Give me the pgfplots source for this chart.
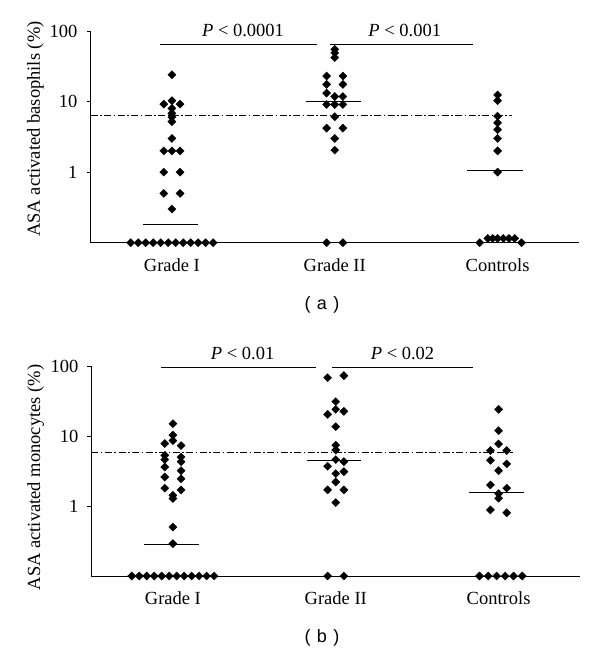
\documentclass[border=0pt]{standalone}
\usepackage{pgfplots}
\pgfplotsset{compat=1.18}
\usepackage{pgfplotstable}
\usepackage{fontspec}
\setmainfont{Liberation Serif}
\newfontfamily\capfont{Liberation Sans}
\newcommand\ff{\fontsize{18.5}{22}\selectfont}

% panel (a): basophils
\pgfplotstableread{
x y
0 24
-0.05 9.2
0 10.3
0.05 9.2
0 8
0 6.8
0 6
0 5.2
0 3
-0.05 2
0 2
0.05 2
-0.05 1
0.05 1
-0.05 0.5
0.05 0.5
0 0.3
-0.253 0.1
-0.207 0.1
-0.161 0.1
-0.115 0.1
-0.069 0.1
-0.023 0.1
0.023 0.1
0.069 0.1
0.115 0.1
0.161 0.1
0.207 0.1
0.253 0.1
1 55
1 49
1 42
0.95 23
1.05 23
0.95 17.5
1.05 17.5
0.95 13.2
1 11.8
1.05 11.8
0.95 9.1
1 9.1
1.05 9.1
1 6.1
0.95 4.2
1.05 4.2
1 3
1 2.05
0.95 0.1
1.05 0.1
2 12.4
2 10.3
2 6.2
2 5
2 4
2 3
2 2
2 1
1.89 0.1
1.94 0.115
1.97 0.115
2.0 0.115
2.035 0.115
2.07 0.115
2.105 0.115
2.147 0.1
}\basophils

% panel (b): monocytes
\pgfplotstableread{
x y
0 15
0 10.3
0 8.6
-0.05 7.8
0.05 7.3
-0.05 5.3
0.05 5.0
-0.05 4.6
0.05 4.3
-0.05 3.6
0.05 3.2
-0.05 2.6
0.05 2.45
-0.05 1.8
0.05 1.7
0 1.42
0 1.28
0 0.5
0 0.29
-0.253 0.1
-0.207 0.1
-0.161 0.1
-0.115 0.1
-0.069 0.1
-0.023 0.1
0.023 0.1
0.069 0.1
0.115 0.1
0.161 0.1
0.207 0.1
0.253 0.1
0.95 68
1.05 73
1 31
1 24
0.95 20.4
1.05 22.5
1 13.6
1 7.4
1 6.3
1 4.6
1.05 4.3
0.95 3.7
1.05 3.1
1 2.9
1 2.2
0.95 1.7
1.05 1.7
1 1.12
0.95 0.1
1.05 0.1
2 24
2 11.9
2 7.7
1.95 6.2
2.05 6.2
1.95 4.5
2.05 4.0
2 3.2
1.95 2.0
2.05 1.8
2 1.5
2 1.29
1.95 0.88
2.05 0.8
1.883 0.1
1.936 0.1
1.988 0.1
2.04 0.1
2.092 0.1
2.145 0.1
}\monocytes

\pgfplotsset{
  dotaxis/.style={
    scale only axis, width=488.5pt,
    ymin=0.1, ymax=100,
    xmin=-0.5, xmax=2.5,
    axis x line*=bottom, axis y line*=left,
    axis line style={-, line width=0.9pt},
    xtick={0,1,2}, xticklabels={Grade I, Grade II, Controls},
    xtick style={draw=none},
    xticklabel style={anchor=base, yshift=-25pt, font=\ff},
    ytick={1,10,100}, yticklabels={1,10,100},
    yminorticks=false,
    tick align=outside, major tick length=4pt,
    ytick style={line width=0.9pt, black},
    yticklabel style={inner sep=0pt, xshift=-9pt, font=\ff},
    clip=false,
    label style={font=\ff},
  },
  diamonds/.style={only marks, mark=square*, mark size=2.9pt,
    mark options={rotate=45, fill=black, draw=black, line width=0.3pt}},
  medline/.style={black, line width=1pt},
  thr/.style={black, line width=0.9pt, dash pattern=on 7pt off 2.5pt on 1.5pt off 2.5pt},
}

\begin{document}
\begin{tikzpicture}
\useasboundingbox (0pt,0pt) rectangle (600pt,-656pt);

% ---------- panel (a)
\begin{semilogyaxis}[dotaxis, at={(90.5pt,-242.7pt)}, anchor=south west, height=211.7pt,
  ylabel={ASA activated basophils (\%)},
  ylabel style={at={(axis description cs:-0.1034,0.537)}, anchor=base}]
\addplot[thr] coordinates {(-0.5,6.4) (2.09,6.4)};
\addplot[medline] coordinates {(-0.176,0.18) (0.161,0.18)};
\addplot[medline] coordinates {(0.824,10) (1.16,10)};
\addplot[medline] coordinates {(1.813,1.07) (2.157,1.07)};
\addplot[medline] coordinates {(-0.074,64.7) (0.888,64.7)};
\addplot[medline] coordinates {(0.969,64.7) (1.847,64.7)};
\addplot[diamonds] table[x=x, y=y] {\basophils};
\node[anchor=base, yshift=8pt, font=\ff] at (axis cs:0.437,64.7) {\textit{P} < 0.0001};
\node[anchor=base, yshift=8pt, font=\ff] at (axis cs:1.43,64.7) {\textit{P} < 0.001};
\end{semilogyaxis}

% ---------- panel (b)
\begin{semilogyaxis}[dotaxis, at={(91.5pt,-576pt)}, anchor=south west, height=210pt,
  ylabel={ASA activated monocytes (\%)},
  ylabel style={at={(axis description cs:-0.1054,0.469)}, anchor=base}]
\addplot[thr] coordinates {(-0.5,5.85) (2.09,5.85)};
\addplot[medline] coordinates {(-0.18,0.28) (0.16,0.28)};
\addplot[medline] coordinates {(0.824,4.5) (1.157,4.5)};
\addplot[medline] coordinates {(1.82,1.55) (2.154,1.55)};
\addplot[medline] coordinates {(-0.071,95) (0.88,95)};
\addplot[medline] coordinates {(0.978,95) (1.845,95)};
\addplot[diamonds] table[x=x, y=y] {\monocytes};
\node[anchor=base, yshift=8pt, font=\ff] at (axis cs:0.428,95) {\textit{P} < 0.01};
\node[anchor=base, yshift=8pt, font=\ff] at (axis cs:1.41,95) {\textit{P} < 0.02};
\end{semilogyaxis}

\node[font=\capfont\fontsize{18}{21}\selectfont] at (322pt,-305pt) {(\hspace{0.35em}a\hspace{0.35em})};
\node[font=\capfont\fontsize{18}{21}\selectfont] at (322pt,-638pt) {(\hspace{0.35em}b\hspace{0.35em})};
\end{tikzpicture}
\end{document}
